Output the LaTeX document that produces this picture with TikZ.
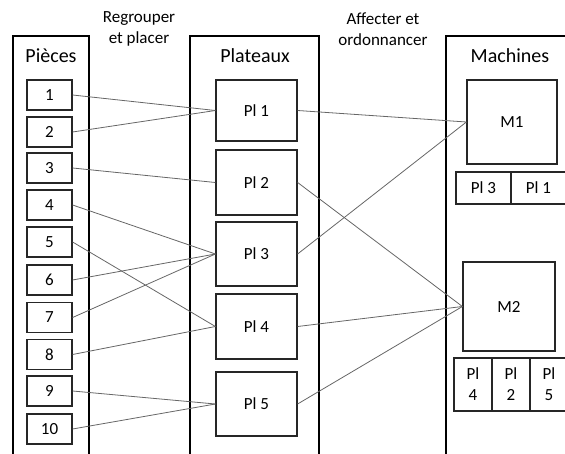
\documentclass[tikz,border=0pt]{standalone}
\usepackage{fontspec}
\setmainfont{Carlito}
\begin{document}
\begin{tikzpicture}[x=1pt, y=-1pt, font=\fontsize{17}{21}\selectfont,
        col/.style={draw=black, line width=2pt},
        title/.style={font=\fontsize{20}{24}\selectfont},
        box/.style={rectangle, draw=black!85, line width=1.2pt, inner sep=0pt},
        piece/.style={box, minimum width=45pt, minimum height=30pt},
        plat/.style={box, minimum width=81pt},
        cell/.style={box, align=center},
        link/.style={draw=black!60, line width=0.8pt}]
        \clip (0,0) rectangle (565,454);
        % colonnes
        \draw[col] (13,36) rectangle (89,480);
        \draw[col] (190,36) rectangle (319,480);
        \draw[col] (446,36) rectangle (600,480);
        \node[title] (tpieces) at (51,56) {Pièces};
        \node[title] (tplat) at (255,56) {Plateaux};
        \node[title] (tmach) at (510,56) {Machines};
        \node[align=center] (regroup) at (139,29) {Regrouper\\et placer};
        \node[align=center] (affect) at (383,29) {Affecter et\\ordonnancer};
        % pieces
        \node[piece] (p1) at (49.5,95) {1};
        \node[piece] (p2) at (49.5,132) {2};
        \node[piece] (p3) at (49.5,168) {3};
        \node[piece] (p4) at (49.5,205) {4};
        \node[piece] (p5) at (49.5,242) {5};
        \node[piece] (p6) at (49.5,280) {6};
        \node[piece] (p7) at (49.5,317.5) {7};
        \node[piece] (p8) at (49.5,354.5) {8};
        \node[piece] (p9) at (49.5,391) {9};
        \node[piece] (p10) at (49.5,429) {10};
        % plateaux
        \node[plat, minimum height=61pt] (pl1) at (256.5,110.5) {Pl 1};
        \node[plat, minimum height=65pt] (pl2) at (256.5,182.5) {Pl 2};
        \node[plat, minimum height=64pt] (pl3) at (256.5,254) {Pl 3};
        \node[plat, minimum height=65pt] (pl4) at (256.5,326.5) {Pl 4};
        \node[plat, minimum height=64pt] (pl5) at (256.5,404) {Pl 5};
        % machines
        \node[box, minimum width=90pt, minimum height=84pt] (m1) at (512,122) {M1};
        \node[box, minimum width=92pt, minimum height=89pt] (m2) at (509,306.5) {M2};
        \node[cell, minimum width=55pt, minimum height=32pt] (q13) at (483.5,188) {Pl 3};
        \node[cell, minimum width=55pt, minimum height=32pt] (q11) at (538.5,188) {Pl 1};
        \node[cell, minimum width=38pt, minimum height=53pt] (q24) at (473,384.5) {Pl\\4};
        \node[cell, minimum width=38pt, minimum height=53pt] (q22) at (511,384.5) {Pl\\2};
        \node[cell, minimum width=38pt, minimum height=53pt] (q25) at (549,384.5) {Pl\\5};
        % liens
        \draw[link] (p1.east) -- (pl1.west);
        \draw[link] (p2.east) -- (pl1.west);
        \draw[link] (p3.east) -- (pl2.west);
        \draw[link] (p4.east) -- (pl3.west);
        \draw[link] (p5.east) -- (pl4.west);
        \draw[link] (p6.east) -- (pl3.west);
        \draw[link] (p7.east) -- (pl3.west);
        \draw[link] (p8.east) -- (pl4.west);
        \draw[link] (p9.east) -- (pl5.west);
        \draw[link] (p10.east) -- (pl5.west);
        \draw[link] (pl1.east) -- (m1.west);
        \draw[link] (pl3.east) -- (m1.west);
        \draw[link] (pl2.east) -- (m2.west);
        \draw[link] (pl4.east) -- (m2.west);
        \draw[link] (pl5.east) -- (m2.west);
    \end{tikzpicture}
\end{document}
